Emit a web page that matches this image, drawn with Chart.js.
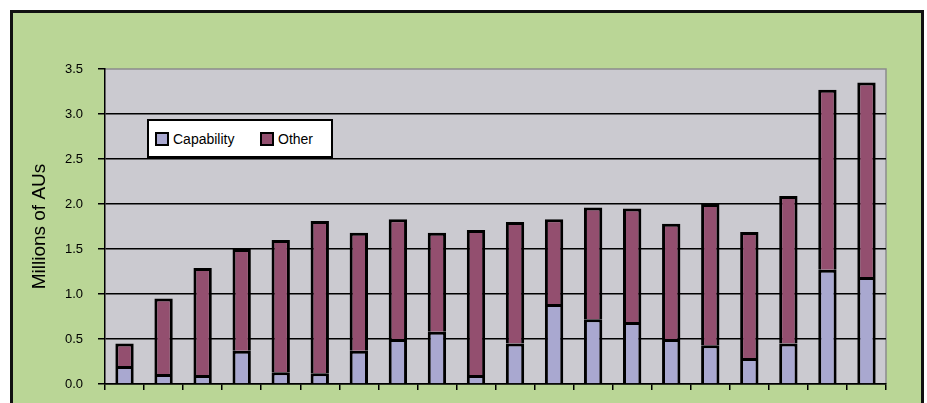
<!DOCTYPE html>
<html>
<head>
<meta charset="utf-8">
<script src="https://cdn.jsdelivr.net/npm/chart.js@4/dist/chart.umd.min.js"></script>
<style>
  html, body { margin: 0; padding: 0; background: #ffffff; overflow: hidden; }
  #frame {
    position: absolute; left: 10px; top: 10px;
    width: 908px; height: 420px;
    background: #BAD696; border: 3px solid #111;
  }
  #wrap { position: absolute; left: 0; top: 0; width: 927px; height: 403px; }
  #legend {
    position: absolute; left: 147px; top: 119px;
    width: 182px; height: 35px;
    background: #fff; border: 2px solid #000;
    font-family: "Liberation Sans", Arial, sans-serif; font-size: 14px; color: #000;
  }
  .item { position: absolute; top: 10px; height: 16px; line-height: 16px; white-space: nowrap; }
  .swatch { position: absolute; left: 0; top: 1px; width: 10px; height: 10px; border: 2px solid #000; }
  .item span.txt { position: absolute; left: 18px; top: 0; }
</style>
</head>
<body>
<div id="frame"></div>
<div id="wrap"><canvas id="c" width="927" height="403"></canvas></div>
<div id="legend"></div>
<script>
// Twenty periods, unlabeled on the category axis
const categories = ['1','2','3','4','5','6','7','8','9','10','11','12','13','14','15','16','17','18','19','20'];

// Millions of AUs
const capability = [0.20, 0.11, 0.10, 0.37, 0.13, 0.12, 0.37, 0.50, 0.58, 0.10,
                    0.45, 0.89, 0.72, 0.69, 0.50, 0.43, 0.29, 0.45, 1.27, 1.19];
const other      = [0.25, 0.84, 1.19, 1.13, 1.47, 1.69, 1.31, 1.33, 1.10, 1.61,
                    1.35, 0.94, 1.24, 1.26, 1.28, 1.57, 1.40, 1.64, 2.00, 2.16];

const seriesNames = ['Capability', 'Other'];
const seriesColors = ['#A9A8D0', '#934F6F'];
const yTicks = [0, 0.5, 1, 1.5, 2, 2.5, 3, 3.5];

const FONT = '"Liberation Sans", Arial, sans-serif';

// Grey plot area plus its thin grey outline on the top and right
const plotBackground = {
  id: 'plotBackground',
  beforeDraw(chart) {
    const {ctx, chartArea: a} = chart;
    ctx.save();
    ctx.fillStyle = '#CBCAD0';
    ctx.fillRect(a.left, a.top, a.right - a.left, a.bottom - a.top);
    ctx.strokeStyle = '#8c8c8c';
    ctx.lineWidth = 1.5;
    ctx.beginPath();
    ctx.moveTo(a.left, a.top);
    ctx.lineTo(a.right, a.top);
    ctx.lineTo(a.right, a.bottom);
    ctx.stroke();
    ctx.restore();
  }
};

function barSeries(i, values) {
  return {
    label: seriesNames[i],
    data: values,
    backgroundColor: seriesColors[i],
    borderColor: '#000000',
    borderWidth: 3,
    borderSkipped: 'start',
    barPercentage: 0.47,
    categoryPercentage: 1.0
  };
}

const chart = new Chart(document.getElementById('c'), {
  type: 'bar',
  data: {
    labels: categories,
    datasets: [barSeries(0, capability), barSeries(1, other)]
  },
  options: {
    responsive: false,
    animation: false,
    devicePixelRatio: 1,
    layout: { padding: { left: 0, top: 69, right: 41, bottom: 0 } },
    plugins: {
      legend: { display: false },
      tooltip: { enabled: false },
      title: { display: false }
    },
    scales: {
      x: {
        stacked: true,
        offset: true,
        grid: {
          offset: true,
          drawOnChartArea: false,
          drawTicks: true,
          tickLength: 6,
          color: '#000',
          lineWidth: 1.5
        },
        border: { display: true, color: '#000', width: 1.5 },
        ticks: { display: false },
        afterFit(s) { s.height = 19; s.paddingLeft = 0; s.paddingRight = 0; }
      },
      y: {
        stacked: true,
        min: 0,
        max: 3.5,
        afterBuildTicks(s) { s.ticks = yTicks.map(v => ({ value: v })); },
        grid: {
          color: ctx => (ctx.tick && ctx.tick.value === 3.5) ? 'rgba(0,0,0,0)' : '#000',
          tickColor: '#000',
          lineWidth: 1.5,
          drawTicks: true,
          tickLength: 7
        },
        border: { display: true, color: '#000', width: 1.5 },
        ticks: {
          padding: 15,
          color: '#000',
          font: { family: FONT, size: 13 },
          callback: v => Number(v).toFixed(1)
        },
        title: {
          display: true,
          text: 'Millions of AUs',
          color: '#000',
          font: { family: FONT, size: 19 },
          padding: { top: 28, bottom: 0 }
        },
        afterFit(s) { s.width = 105; s.paddingTop = 0; s.paddingBottom = 0; }
      }
    }
  },
  plugins: [plotBackground]
});

// Legend box built from the dataset names and colours
const legend = document.getElementById('legend');
const itemX = [6, 111];
seriesNames.forEach((name, i) => {
  const item = document.createElement('div');
  item.className = 'item';
  item.style.left = itemX[i] + 'px';
  const sw = document.createElement('div');
  sw.className = 'swatch';
  sw.style.background = seriesColors[i];
  const t = document.createElement('span');
  t.className = 'txt';
  t.textContent = name;
  item.appendChild(sw);
  item.appendChild(t);
  legend.appendChild(item);
});
</script>
</body>
</html>
